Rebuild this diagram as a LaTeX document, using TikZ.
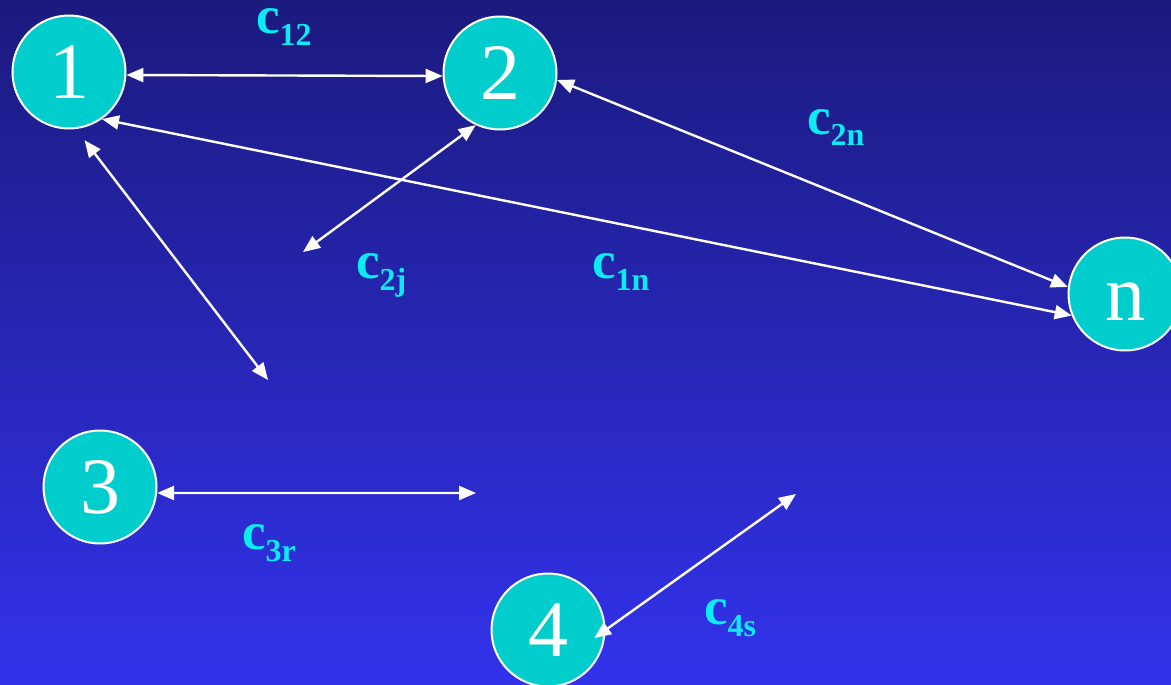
\documentclass[tikz,border=0pt]{standalone}
\usepackage{fontspec}
\setmainfont{Liberation Serif}
\usetikzlibrary{arrows.meta}
\definecolor{bgtop}{RGB}{27,26,126}
\definecolor{bgbot}{RGB}{50,50,236}
\definecolor{nodefill}{RGB}{0,205,204}
\definecolor{lab}{RGB}{10,235,242}
\tikzset{
  vtx/.style={circle, draw=white, line width=2pt, fill=nodefill, minimum size=113pt, inner sep=0pt,
    text=white, font=\fontsize{80}{80}\selectfont, text height=53pt, text depth=0pt},
  link/.style={draw=white, line width=2.4pt, {Triangle[length=17pt,width=14pt]}-{Triangle[length=17pt,width=14pt]}},
  lbl/.style={anchor=base west, inner sep=0pt, text=lab, font=\bfseries\fontsize{53}{53}\selectfont}
}
\newcommand{\cl}[1]{c\raisebox{-12pt}{\fontsize{32}{32}\selectfont #1}}
\begin{document}
\begin{tikzpicture}[x=1pt,y=-1pt]
\useasboundingbox (0,0) rectangle (1171,685);
\shade[top color=bgtop, bottom color=bgbot] (0,0) rectangle (1171,685);
\node[vtx] (n1) at (69,72) {1};
\node[vtx] (n2) at (500,73) {2};
\node[vtx] (nn) at (1125,294) {n};
\node[vtx] (n3) at (100,487) {3};
\node[vtx] (n4) at (548,630) {4};
\coordinate (f2j) at (303,252);
\coordinate (f1) at (268,380);
\coordinate (f3r) at (476,493);
\coordinate (f4s) at (796,494);
\draw[link] (n1.-3) -- (n2.183);
\draw[link] (n1.-55) -- (nn.202);
\draw[link] (n2.-7) -- (nn.173);
\draw[link] (n2.245) -- (f2j);
\draw[link, shorten <=14pt] (n1.-83) -- (f1);
\draw[link] (n3.-6) -- (f3r);
\draw[link, shorten <=-14pt] (n4.0) -- (f4s);
\node[lbl] (l12) at (256,34) {\cl{12}};
\node[lbl] (l2n) at (807,134) {\cl{2n}};
\node[lbl] (l2j) at (356,278) {\cl{2j}};
\node[lbl] (l1n) at (592,278) {\cl{1n}};
\node[lbl] (l3r) at (242,549) {\cl{3r}};
\node[lbl] (l4s) at (704,624) {\cl{4s}};
\end{tikzpicture}
\end{document}
